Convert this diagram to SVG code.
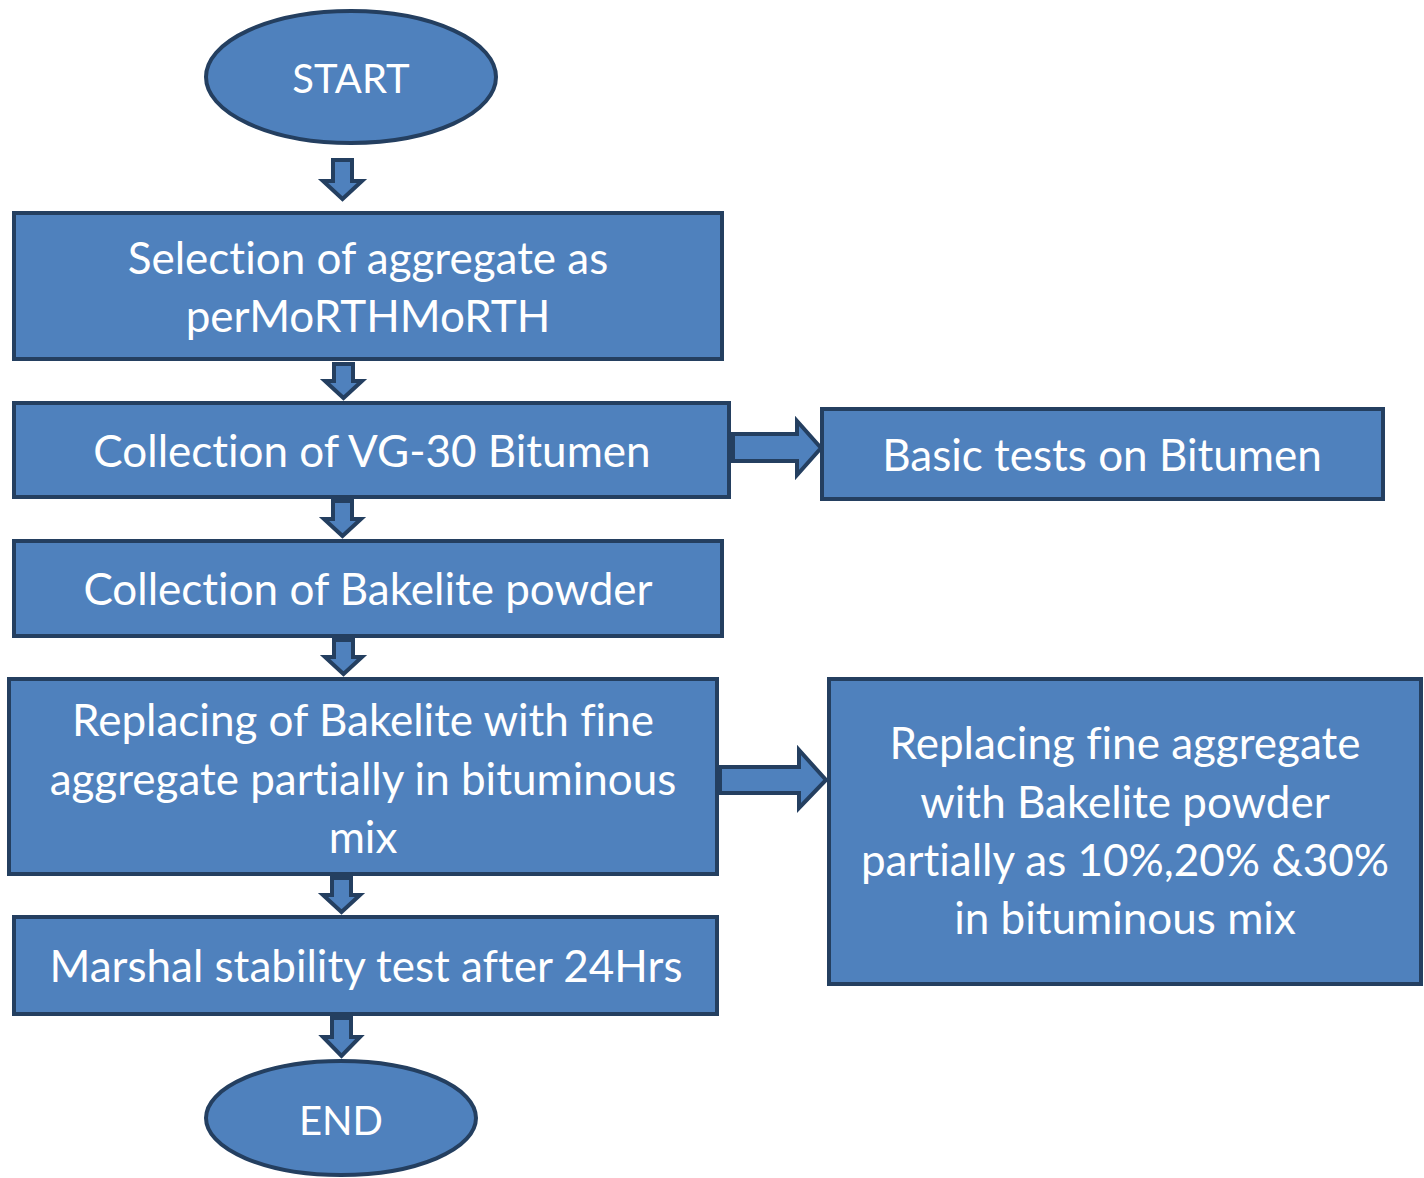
<svg xmlns="http://www.w3.org/2000/svg" width="1424" height="1178" viewBox="0 0 1424 1178">
<style>
.n{fill:#4F81BD;stroke:#243F60;stroke-width:4}
.a{fill:#4F81BD;stroke:#243F60;stroke-width:4;stroke-linejoin:miter}
text{font-family:Lato,"Liberation Sans",sans-serif;font-size:44px;fill:#fff;text-anchor:middle;font-variant-ligatures:none}
text.e{font-size:40px}
</style>
<rect width="1424" height="1178" fill="#fff"/>
<g id="connectors">
<polygon class="a" points="333,160 352,160 352,181 362,181 342.5,199 323,181 333,181"/>
<polygon class="a" points="334,364 353,364 353,381 362,381 343.5,398 325,381 334,381"/>
<polygon class="a" points="333,501 352,501 352,519 361,519 342.5,536 324,519 333,519"/>
<polygon class="a" points="334,640 353,640 353,657 362,657 343.5,674 325,657 334,657"/>
<polygon class="a" points="332,878 351,878 351,895 360,895 341.5,912 323,895 332,895"/>
<polygon class="a" points="332,1018 351,1018 351,1037 360,1037 341.5,1056 323,1037 332,1037"/>
<polygon class="a" points="733,434 797,434 797,421 821,448 797,475 797,461 733,461"/>
<polygon class="a" points="720,767 799,767 799,750 826,780 799,808 799,793 720,793"/>
</g>
<g id="start"><ellipse class="n" cx="351" cy="77" rx="145" ry="66"/><text class="e" x="351" y="93">START</text></g>
<g id="n1"><rect class="n" x="14" y="213" width="708" height="146"/><text x="368" y="274">Selection of aggregate as</text><text x="368" y="332">perMoRTHMoRTH</text></g>
<g id="n2"><rect class="n" x="14" y="403" width="715" height="94"/><text x="372" y="467">Collection of VG-30 Bitumen</text></g>
<g id="n2b"><rect class="n" x="822" y="409" width="561" height="90"/><text x="1102" y="471">Basic tests on Bitumen</text></g>
<g id="n3"><rect class="n" x="14" y="541" width="708" height="95"/><text x="368" y="605">Collection of Bakelite powder</text></g>
<g id="n4"><rect class="n" x="9" y="679" width="708" height="195"/><text x="363" y="736">Replacing of Bakelite with fine</text><text x="363" y="795">aggregate partially in bituminous</text><text x="363" y="853">mix</text></g>
<g id="n4b"><rect class="n" x="829" y="679" width="592" height="305"/><text x="1125" y="759">Replacing fine aggregate</text><text x="1125" y="818">with Bakelite powder</text><text x="1125" y="876">partially as 10%,20% &amp;30%</text><text x="1125" y="934">in bituminous mix</text></g>
<g id="n5"><rect class="n" x="14" y="917" width="703" height="97"/><text x="366" y="982">Marshal stability test after 24Hrs</text></g>
<g id="end"><ellipse class="n" cx="341" cy="1118" rx="135" ry="57"/><text class="e" x="341" y="1135">END</text></g>
</svg>
